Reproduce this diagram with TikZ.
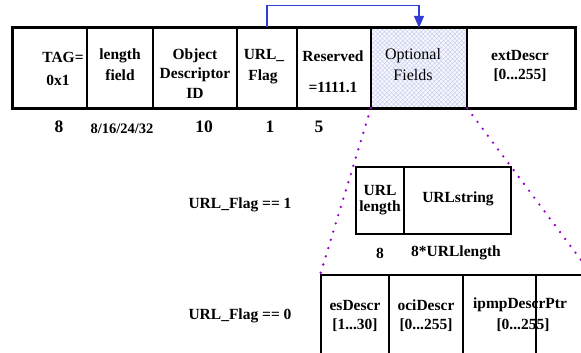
\documentclass[tikz,border=0pt]{standalone}
\usepackage{fontspec}
\setmainfont{Liberation Serif}
\usetikzlibrary{patterns.meta,arrows.meta}
\definecolor{arrowblue}{RGB}{51,60,210}
\definecolor{dotpurple}{RGB}{153,0,204}
\definecolor{hatchblue}{RGB}{190,198,235}
\begin{document}
\begin{tikzpicture}[x=1pt,y=-1pt,
  cell/.style={draw,line width=1.4pt,inner sep=0pt},
  lab/.style={font=\bfseries\fontsize{15.5}{17}\selectfont,inner sep=0pt,anchor=center},
  reg/.style={font=\fontsize{16}{18}\selectfont,text=black,inner sep=0pt,anchor=center},
  big/.style={font=\bfseries\fontsize{17.5}{19}\selectfont,inner sep=0pt,anchor=center},
  small/.style={font=\bfseries\fontsize{14.5}{16}\selectfont,inner sep=0pt,anchor=center},
  dotline/.style={draw=dotpurple,line width=2.6pt,line cap=round,dash pattern=on 0pt off 8.6pt},
  flagarrow/.style={draw=arrowblue,line width=1.5pt,-{Triangle[length=12pt,width=10pt]}}]
\useasboundingbox (0,0) rectangle (581,353);
\clip (0,0) rectangle (581,353);
% top row cells
\node[cell,minimum width=74pt,minimum height=80pt] (tag) at (50,68) {};
\node[cell,minimum width=66pt,minimum height=80pt] (len) at (120,68) {};
\node[cell,minimum width=84pt,minimum height=80pt] (odid) at (195,68) {};
\node[cell,minimum width=60pt,minimum height=80pt] (flag) at (267,68) {};
\node[cell,minimum width=74pt,minimum height=80pt] (res) at (334,68) {};
\node[cell,minimum width=96pt,minimum height=80pt,
  preaction={fill=blue!3},
  preaction={pattern={Lines[angle=45,distance=3.2pt,line width=0.35pt]},pattern color=hatchblue},
  pattern={Lines[angle=-45,distance=3.2pt,line width=0.35pt]},pattern color=hatchblue] (opt) at (419,68) {};
\node[cell,minimum width=108pt,minimum height=80pt] (ext) at (521,68) {};
\draw[line width=2pt] (tag.north west) rectangle (ext.south east);
% top row texts
\node[lab] (t1) at (63,57) {TAG=};
\node[lab] (t2) at (58,80) {0x1};
\node[lab] (l1) at (120,56) {length};
\node[lab] (l2) at (120,75) {field};
\node[lab] (o1) at (195,56) {Object};
\node[lab] (o2) at (195,75) {Descriptor};
\node[lab] (o3) at (195,93) {ID};
\node[lab] (f1) at (264,56) {URL\_};
\node[lab] (f2) at (263,77) {Flag};
\node[lab] (r1) at (333,56) {Reserved};
\node[lab] (r2) at (333,87) {=1111.1};
\node[reg] (p1) at (413,56) {Optional};
\node[reg] (p2) at (413,75) {Fields};
\node[lab] (e1) at (520,56) {extDescr};
\node[lab] (e2) at (520,75) {[0...255]};
% bit widths
\node[big] (n1) at (59,127) {8};
\node[small] (n2) at (122,129) {8/16/24/32};
\node[big] (n3) at (204,127) {10};
\node[big] (n4) at (270,127) {1};
\node[big] (n5) at (319,127) {5};
% arrow
\draw[flagarrow] (flag.north) -- ++(0,-22) -| (opt.north);
% URL box
\node[cell,minimum width=48pt,minimum height=67pt] (ulen) at (380,200.5) {};
\node[cell,minimum width=107pt,minimum height=67pt] (ustr) at (457.5,200.5) {};
\node[lab] (u1) at (380,190) {URL};
\node[lab] (u2) at (380,208) {length};
\node[lab] (u3) at (458,199) {URLstring};
\node[lab] (u4) at (380,253) {8};
\node[lab] (u5) at (456,253) {8*URLlength};
\node[lab] (c1) at (240,205) {URL\_Flag == 1};
\node[lab] (c0) at (240,316) {URL\_Flag == 0};
% bottom box
\node[cell,minimum width=68pt,minimum height=125pt] (es) at (355,337.5) {};
\node[cell,minimum width=74pt,minimum height=125pt] (oci) at (426,337.5) {};
\node[cell,minimum width=73pt,minimum height=125pt] (ipmp) at (499.5,337.5) {};
\node[cell,minimum width=55pt,minimum height=125pt] (more) at (563.5,337.5) {};
\node[lab] (b1) at (355,305) {esDescr};
\node[lab] (b2) at (355,325) {[1...30]};
\node[lab] (b3) at (426,305) {ociDescr};
\node[lab] (b4) at (426,325) {[0...255]};
\node[lab] (b5) at (520,305) {ipmpDescrPtr};
\node[lab] (b6) at (523,325) {[0...255]};
% dotted expansion lines
\draw[dotline] (opt.south west) -- (es.north west);
\draw[dotline] (opt.south east) -- (more.north east);
\end{tikzpicture}
\end{document}
